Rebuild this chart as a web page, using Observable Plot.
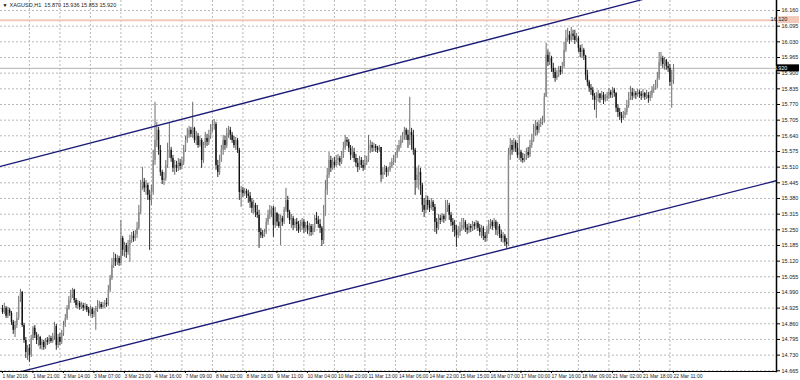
<!DOCTYPE html>
<html><head><meta charset="utf-8">
<script src="https://cdn.jsdelivr.net/npm/d3@7"></script>
<script src="https://cdn.jsdelivr.net/npm/@observablehq/plot@0.6"></script>
<style>
body{margin:0;background:#fff;}
#chart{width:800px;height:380px;overflow:hidden;}
</style></head>
<body><div id="chart"></div>
<script>
const symbol = "XAGUSD,H1";
const firstOpen = 14.924;
const close = [
14.907,14.924,14.891,14.916,14.903,14.866,14.833,14.853,14.882,14.957,14.990,14.853,14.791,14.741,14.758,
14.729,14.799,14.841,14.812,14.791,14.803,14.770,14.783,14.762,14.791,14.783,14.799,14.787,14.808,14.849,
14.770,14.803,14.783,14.820,14.853,14.882,14.924,14.957,14.978,14.999,14.957,14.936,14.945,14.928,14.936,
14.924,14.932,14.916,14.903,14.920,14.899,14.911,14.924,14.932,14.940,14.928,14.936,14.945,14.940,14.999,
15.048,15.102,15.131,15.115,15.131,15.111,15.214,15.165,15.185,15.156,15.185,15.206,15.223,15.214,15.231,
15.256,15.322,15.430,15.447,15.422,15.434,15.393,15.372,15.405,15.538,15.621,15.663,15.580,15.488,15.455,
15.463,15.517,15.571,15.580,15.546,15.505,15.517,15.505,15.526,15.513,15.530,15.580,15.621,15.642,15.663,
15.646,15.671,15.621,15.638,15.600,15.621,15.538,15.600,15.629,15.613,15.638,15.671,15.683,15.687,15.517,
15.488,15.538,15.580,15.621,15.600,15.650,15.663,15.642,15.621,15.600,15.621,15.580,15.405,15.414,15.401,
15.409,15.397,15.389,15.364,15.339,15.351,15.322,15.310,15.239,15.227,15.223,15.239,15.281,15.310,15.331,
15.339,15.268,15.318,15.281,15.264,15.297,15.281,15.331,15.372,15.322,15.289,15.297,15.268,15.281,15.272,
15.248,15.264,15.281,15.256,15.268,15.248,15.264,15.239,15.256,15.297,15.289,15.272,15.256,15.206,15.310,
15.414,15.476,15.538,15.505,15.530,15.517,15.538,15.546,15.530,15.559,15.588,15.621,15.613,15.588,15.559,
15.571,15.546,15.526,15.509,15.538,15.517,15.505,15.526,15.538,15.580,15.600,15.588,15.596,15.588,15.580,
15.592,15.476,15.488,15.505,15.488,15.497,15.513,15.530,15.538,15.559,15.580,15.600,15.621,15.638,15.663,
15.642,15.621,15.654,15.642,15.580,15.455,15.476,15.488,15.434,15.351,15.331,15.372,15.351,15.339,15.364,
15.343,15.281,15.256,15.297,15.289,15.306,15.293,15.339,15.351,15.310,15.281,15.268,15.248,15.227,15.239,
15.256,15.268,15.281,15.256,15.248,15.264,15.256,15.272,15.264,15.277,15.256,15.239,15.256,15.223,15.214,
15.248,15.272,15.281,15.264,15.281,15.248,15.264,15.231,15.214,15.223,15.198,15.189,15.559,15.600,15.580,
15.613,15.588,15.559,15.571,15.546,15.538,15.546,15.571,15.559,15.600,15.621,15.654,15.679,15.663,15.687,
15.696,15.704,15.800,15.974,15.945,15.961,15.920,15.903,15.878,15.891,15.912,15.903,15.928,15.995,16.044,
16.057,16.036,16.061,16.053,16.036,16.044,16.003,15.986,15.995,15.970,15.891,15.862,15.837,15.829,15.804,
15.787,15.795,15.812,15.795,15.808,15.787,15.795,15.804,15.820,15.808,15.829,15.816,15.754,15.737,15.721,
15.712,15.725,15.737,15.766,15.795,15.820,15.804,15.816,15.808,15.820,15.812,15.804,15.816,15.800,15.808,
15.795,15.808,15.829,15.837,15.849,15.878,15.945,15.961,15.936,15.953,15.928,15.920,15.862,15.870,15.920];
const high = [
14.936,14.945,14.932,14.928,14.924,14.911,14.874,14.870,14.907,14.974,15.003,14.994,14.862,14.803,14.770,
14.774,14.812,14.849,14.853,14.824,14.816,14.808,14.795,14.791,14.799,14.803,14.812,14.808,14.820,14.866,
14.857,14.816,14.820,14.833,14.870,14.899,14.936,14.974,14.999,15.007,15.003,14.965,14.957,14.953,14.949,
14.945,14.945,14.940,14.928,14.932,14.928,14.924,14.932,14.957,14.953,14.949,14.949,14.957,14.965,15.019,
15.061,15.131,15.156,15.148,15.144,15.140,15.289,15.223,15.198,15.194,15.206,15.227,15.239,15.243,15.248,
15.281,15.351,15.455,15.509,15.463,15.455,15.443,15.414,15.434,15.580,15.779,15.696,15.675,15.600,15.497,
15.488,15.538,15.609,15.692,15.592,15.559,15.538,15.534,15.546,15.542,15.550,15.600,15.638,15.671,15.679,
15.675,15.779,15.675,15.658,15.650,15.638,15.629,15.613,15.654,15.646,15.663,15.687,15.704,15.708,15.696,
15.538,15.559,15.600,15.642,15.638,15.671,15.679,15.675,15.654,15.638,15.633,15.629,15.588,15.430,15.426,
15.422,15.418,15.414,15.405,15.380,15.372,15.360,15.351,15.331,15.256,15.248,15.252,15.297,15.331,15.351,
15.347,15.347,15.343,15.322,15.314,15.310,15.306,15.343,15.422,15.389,15.331,15.314,15.306,15.293,15.297,
15.285,15.289,15.297,15.293,15.281,15.285,15.277,15.272,15.272,15.310,15.322,15.306,15.293,15.264,15.351,
15.455,15.505,15.571,15.555,15.546,15.550,15.559,15.563,15.555,15.575,15.613,15.642,15.633,15.625,15.600,
15.596,15.588,15.563,15.546,15.555,15.550,15.538,15.559,15.555,15.642,15.621,15.613,15.609,15.604,15.596,
15.600,15.588,15.509,15.517,15.513,15.509,15.530,15.546,15.559,15.571,15.600,15.621,15.638,15.654,15.675,
15.671,15.663,15.800,15.671,15.663,15.588,15.505,15.517,15.505,15.443,15.380,15.393,15.389,15.372,15.380,
15.372,15.355,15.297,15.314,15.310,15.318,15.314,15.372,15.372,15.360,15.322,15.297,15.289,15.268,15.264,
15.281,15.297,15.297,15.289,15.272,15.277,15.272,15.285,15.281,15.289,15.285,15.272,15.268,15.264,15.239,
15.264,15.289,15.293,15.289,15.297,15.289,15.281,15.272,15.248,15.239,15.231,15.214,15.588,15.629,15.621,
15.629,15.621,15.609,15.642,15.580,15.567,15.563,15.588,15.592,15.621,15.646,15.687,15.704,15.696,15.704,
15.712,15.721,15.816,16.024,15.995,15.986,15.970,15.941,15.920,15.912,15.928,15.928,15.945,16.028,16.078,
16.086,16.073,16.090,16.078,16.078,16.065,16.053,16.015,16.019,16.003,15.974,15.912,15.870,15.853,15.841,
15.816,15.820,15.829,15.816,15.824,15.820,15.812,15.820,15.837,15.829,15.841,15.837,15.820,15.770,15.754,
15.737,15.741,15.754,15.787,15.820,15.845,15.837,15.833,15.824,15.833,15.829,15.824,15.833,15.820,15.829,
15.820,15.824,15.845,15.853,15.870,15.903,15.986,15.986,15.970,15.965,15.957,15.945,15.936,15.912,15.936];
const low = [
14.899,14.899,14.882,14.882,14.891,14.853,14.816,14.803,14.841,14.874,14.949,14.845,14.779,14.716,14.708,
14.700,14.720,14.791,14.799,14.774,14.766,14.754,14.750,14.750,14.754,14.770,14.774,14.779,14.779,14.791,
14.750,14.758,14.770,14.774,14.808,14.845,14.874,14.916,14.945,14.965,14.945,14.924,14.920,14.916,14.920,
14.911,14.916,14.907,14.891,14.891,14.882,14.886,14.833,14.907,14.920,14.920,14.920,14.924,14.928,14.932,
14.990,15.040,15.090,15.098,15.102,15.098,15.102,15.140,15.136,15.131,15.144,15.115,15.194,15.198,15.202,
15.214,15.248,15.314,15.414,15.405,15.393,15.372,15.165,15.351,15.393,15.517,15.592,15.559,15.472,15.438,
15.434,15.451,15.505,15.546,15.530,15.488,15.476,15.488,15.492,15.497,15.501,15.517,15.571,15.609,15.629,
15.633,15.629,15.609,15.600,15.588,15.592,15.505,15.526,15.588,15.596,15.600,15.625,15.654,15.663,15.497,
15.467,15.476,15.530,15.559,15.580,15.588,15.629,15.621,15.609,15.588,15.580,15.567,15.372,15.343,15.385,
15.389,15.380,15.360,15.339,15.318,15.314,15.301,15.297,15.173,15.214,15.214,15.219,15.231,15.268,15.293,
15.301,15.219,15.256,15.264,15.256,15.185,15.264,15.272,15.322,15.297,15.272,15.256,15.248,15.256,15.243,
15.235,15.239,15.248,15.235,15.239,15.231,15.223,15.223,15.227,15.239,15.272,15.256,15.235,15.181,15.189,
15.306,15.393,15.463,15.488,15.497,15.505,15.509,15.517,15.513,15.521,15.546,15.580,15.596,15.571,15.538,
15.546,15.530,15.509,15.488,15.497,15.505,15.492,15.497,15.517,15.530,15.567,15.571,15.575,15.571,15.567,
15.571,15.447,15.459,15.476,15.467,15.472,15.488,15.505,15.517,15.526,15.546,15.571,15.588,15.609,15.621,
15.621,15.588,15.600,15.580,15.559,15.393,15.422,15.414,15.393,15.322,15.301,15.318,15.331,15.322,15.331,
15.326,15.239,15.231,15.248,15.272,15.281,15.277,15.285,15.322,15.289,15.264,15.239,15.219,15.177,15.214,
15.223,15.243,15.248,15.239,15.231,15.235,15.239,15.243,15.248,15.252,15.243,15.223,15.214,15.206,15.198,
15.202,15.231,15.252,15.248,15.256,15.227,15.223,15.214,15.198,15.194,15.181,15.173,15.181,15.538,15.559,
15.571,15.571,15.546,15.538,15.530,15.526,15.530,15.538,15.546,15.550,15.588,15.613,15.638,15.642,15.650,
15.675,15.683,15.692,15.800,15.928,15.932,15.903,15.878,15.862,15.870,15.882,15.891,15.895,15.920,15.986,
16.028,16.019,16.028,16.036,16.019,16.028,15.986,15.965,15.961,15.953,15.870,15.845,15.820,15.808,15.787,
15.746,15.712,15.779,15.775,15.787,15.770,15.779,15.783,15.791,15.795,15.795,15.800,15.737,15.716,15.704,
15.692,15.704,15.712,15.725,15.754,15.787,15.787,15.795,15.791,15.800,15.795,15.787,15.795,15.787,15.791,
15.775,15.783,15.795,15.816,15.829,15.837,15.870,15.928,15.920,15.912,15.912,15.903,15.845,15.754,15.853];

// bar index of each time-scale tick (tick mark / grid line), and its label
const xTickBars = [-2,15,32,49,66,83,100,117,134,151,168,185,202,219,236,253,270,287,304,321,338,355,372];
const xTickLabels = ["1 Mar 2016","1 Mar 21:00","2 Mar 14:00","3 Mar 07:00","3 Mar 23:00","4 Mar 16:00",
"7 Mar 09:00","8 Mar 02:00","8 Mar 18:00","9 Mar 11:00","10 Mar 04:00","10 Mar 20:00","11 Mar 13:00",
"14 Mar 06:00","14 Mar 22:00","15 Mar 15:00","16 Mar 07:00","17 Mar 00:00","17 Mar 16:00","18 Mar 09:00",
"21 Mar 02:00","21 Mar 18:00","22 Mar 11:00"];
const yTicks = [16.160,16.095,16.030,15.965,15.900,15.835,15.770,15.705,15.640,15.575,15.510,15.445,
15.380,15.315,15.250,15.185,15.120,15.055,14.990,14.925,14.860,14.795,14.730,14.665];
const upperChannel = [{bar:-1.1, price:15.513},{bar:360, price:16.212}];
const lowerChannel = [{bar:9.5, price:14.660},{bar:431.4, price:15.454}];
const levelPrice = 16.120;
const bidPrice = 15.920;

const bars = close.map((c, i) => {
  const o = i ? close[i-1] : firstOpen;
  return {i, open:o, close:c, high:Math.max(high[i], o, c), low:Math.min(low[i], o, c)};
});
const last = bars[bars.length-1];
const f3 = d3.format(".3f");
const header = `${symbol}  ${f3(last.open)} ${f3(last.high)} ${f3(last.low)} ${f3(last.close)}`;
const labelMap = new Map(xTickBars.map((b, k) => [b, xTickLabels[k]]));
const FONT = "Liberation Sans, Arial, sans-serif";

const chart = Plot.plot({
  width: 800, height: 380,
  marginTop: 0, marginLeft: 0, marginRight: 24, marginBottom: 9,
  x: {domain: [-1.115, 431.4], axis: null},
  y: {domain: [14.662, 16.2015], axis: null},
  color: {type: "identity"},
  style: {background: "#fff", fontFamily: FONT, overflow: "visible"},
  marks: [
    Plot.gridY(yTicks, {stroke: "#b8b8b8", strokeOpacity: 1, strokeDasharray: "2,2"}),
    Plot.gridX(xTickBars.slice(1), {stroke: "#b8b8b8", strokeOpacity: 1, strokeDasharray: "2,2"}),
    Plot.ruleY([levelPrice], {stroke: "#f2c9b8", strokeWidth: 2}),
    Plot.ruleY([bidPrice], {stroke: "#b4b4b4", strokeWidth: 1}),
    Plot.ruleX(bars, {x: "i", y1: "low", y2: "high", stroke: d => d.close >= d.open ? "#6e6e6e" : "#2a2a2a", strokeWidth: 1}),
    Plot.ruleX(bars, {x: "i", y1: "open", y2: "close", stroke: d => d.close >= d.open ? "#8a8a8a" : "#111", strokeWidth: 1.4}),
    Plot.line(upperChannel, {x: "bar", y: "price", stroke: "#1c1c78", strokeWidth: 1.3, clip: true}),
    Plot.line(lowerChannel, {x: "bar", y: "price", stroke: "#1c1c78", strokeWidth: 1.3, clip: true}),
    Plot.frame({anchor: "right", stroke: "#000", strokeWidth: 1.5}),
    Plot.frame({anchor: "bottom", stroke: "#000", strokeWidth: 1}),
    Plot.axisY(yTicks, {anchor: "right", tickSize: 3, tickPadding: 2, tickFormat: f3, fontSize: 5.5, fill: "#222", stroke: "#000"}),
    Plot.axisX(xTickBars, {anchor: "bottom", tickSize: 2, tickPadding: 1, tickFormat: d => labelMap.get(d), textAnchor: "start", dx: 3.5, fontSize: 5, fill: "#222", stroke: "#000"}),
    Plot.text([header], {frameAnchor: "top-left", dx: 9, dy: 3, fontSize: 5.5, fill: "#222", textAnchor: "start"}),
    Plot.text(["▼"], {frameAnchor: "top-left", dx: 2, dy: 3, fontSize: 5, fill: "#000", textAnchor: "start"})
  ]
});
document.getElementById("chart").appendChild(chart);

// price tags on the right axis, positioned by the chart's own y scale
const ys = chart.scale("y");
const svg = d3.select(chart);
[[levelPrice, "#f2c9b8", "#222"], [bidPrice, "#000", "#fff"]].forEach(([p, bg, fg]) => {
  const y = ys.apply(p);
  svg.append("rect").attr("x", 777).attr("y", y - 3.5).attr("width", 22).attr("height", 7).attr("fill", bg);
  svg.append("text").attr("x", 779).attr("y", y).attr("dy", "0.32em").attr("font-size", 5.5)
    .attr("font-family", FONT).attr("fill", fg).text(f3(p));
});
</script>
</body></html>
